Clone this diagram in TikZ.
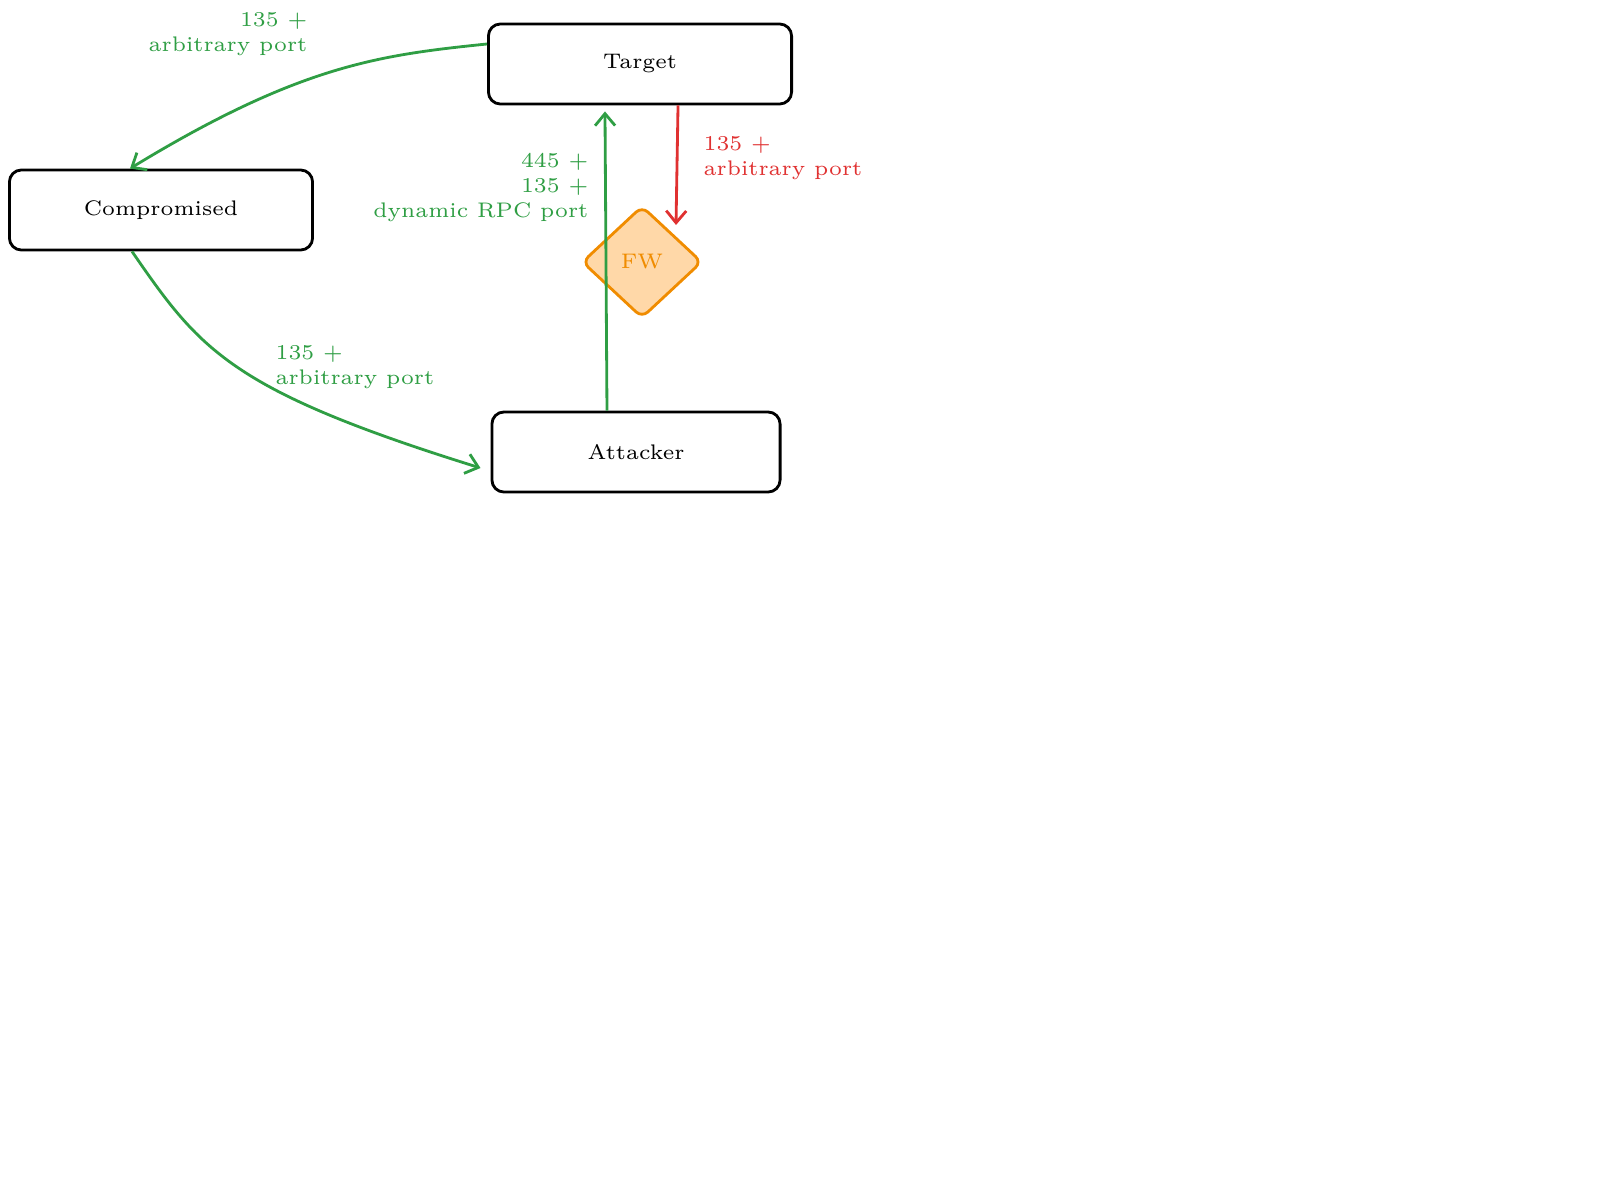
\documentclass[tikz,border=0pt]{standalone}
\usepackage{tikz}
\usetikzlibrary{arrows.meta,positioning,shapes.geometric}
\definecolor{okgreen}{RGB}{47,158,68}
\definecolor{blockred}{RGB}{224,49,49}
\definecolor{fwline}{RGB}{240,140,0}
\definecolor{fwfill}{RGB}{255,216,168}
\tikzset{
  host/.style={draw,thick,rounded corners=0.12cm,minimum width=3.03cm,minimum height=0.8cm,font=\fontsize{6}{7.1}\selectfont},
  lbl/.style={font=\fontsize{6}{7.1}\selectfont,align=left,inner sep=0pt},
  link/.style={thick,okgreen,-{Straight Barb[length=0.12cm,width=0.2cm]}}
}
\begin{document}
\begin{tikzpicture}[x=0.01cm,y=-0.01cm]
    \useasboundingbox (0,0) rectangle (1600,1200);
    \node[host] (target) at (640,64) {Target};
    \node[host] (comp) at (161,210) {Compromised};
    \node[host,minimum width=2.88cm] (attacker) at (636,452) {Attacker};
    \node[diamond,draw=fwline,thick,fill=fwfill,rounded corners=0.08cm,minimum width=1.2cm,minimum height=1.12cm,inner sep=0pt,text=fwline,font=\fontsize{6}{7.1}\selectfont] (fw) at (642,262) {FW};

    \draw[link] ([yshift=0.2cm]target.west) .. controls (380,55) and (300,65) .. ([xshift=-0.31cm]comp.north);
    \draw[link] ([xshift=-0.29cm]comp.south) .. controls (200,350) and (230,390) .. ([yshift=-0.16cm,xshift=-0.1cm]attacker.west);
    \draw[link] ([xshift=-0.29cm]attacker.north) -- ([xshift=-0.35cm,yshift=-0.06cm]target.south);
    \draw[thick,blockred,-{Straight Barb[length=0.12cm,width=0.2cm]}] ([xshift=0.38cm]target.south) -- (676,225);

    \node[lbl,text=okgreen,align=right,anchor=north east] (l1) at (308,12) {135 +\\arbitrary port};
    \node[lbl,text=blockred,anchor=north west] (l2) at (703,136) {135 +\\arbitrary port};
    \node[lbl,text=okgreen,align=right,anchor=north east] (l3) at (589,153) {445 +\\135 +\\dynamic RPC port};
    \node[lbl,text=okgreen,anchor=north west] (l4) at (275,345) {135 +\\arbitrary port};
\end{tikzpicture}
\end{document}
